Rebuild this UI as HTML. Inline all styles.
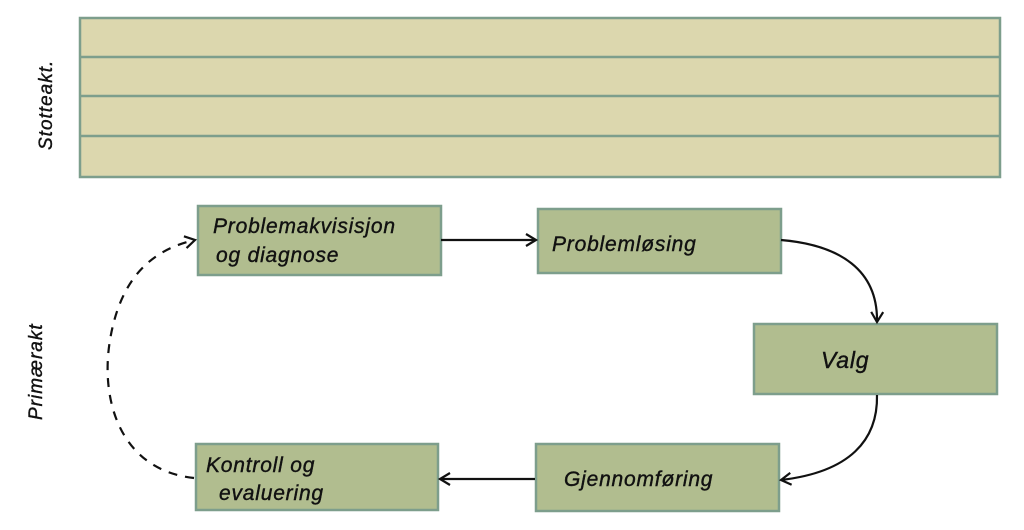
<!DOCTYPE html>
<html><head><meta charset="utf-8"><style>
html,body{margin:0;padding:0;background:#fff;}
svg{display:block;}
text{font-family:"Liberation Sans",sans-serif;font-style:italic;fill:#111;stroke:#111;stroke-width:0.4;}
</style></head><body>
<svg width="1024" height="530" viewBox="0 0 1024 530" xmlns="http://www.w3.org/2000/svg">
<defs>
<marker id="a" markerWidth="14" markerHeight="14" refX="11" refY="7" orient="auto" markerUnits="userSpaceOnUse">
<path d="M1,1 L11,7 L1,13" fill="none" stroke="#111" stroke-width="2.2"/>
</marker>
</defs>
<rect x="80" y="18" width="920" height="159" fill="#dcd7ae" stroke="#7d9e8c" stroke-width="2.5"/>
<line x1="80" y1="57" x2="1000" y2="57" stroke="#7d9e8c" stroke-width="2.5"/>
<line x1="80" y1="96" x2="1000" y2="96" stroke="#7d9e8c" stroke-width="2.5"/>
<line x1="80" y1="136" x2="1000" y2="136" stroke="#7d9e8c" stroke-width="2.5"/>
<text transform="translate(52,150) rotate(-90)" font-size="19" letter-spacing="1">Stotteakt.</text>
<text transform="translate(42,420) rotate(-90)" font-size="19" letter-spacing="1">Primærakt</text>
<g fill="#b1bd8f" stroke="#7d9e8c" stroke-width="2.5">
<rect x="198" y="206" width="243" height="69"/>
<rect x="538" y="209" width="243" height="64"/>
<rect x="754" y="324" width="243" height="70"/>
<rect x="536" y="444" width="243" height="67"/>
<rect x="196" y="444" width="242" height="66"/>
</g>
<g font-size="21" letter-spacing="0.8">
<text x="213" y="233">Problemakvisisjon</text>
<text x="216" y="262">og diagnose</text>
<text x="552" y="251">Problemløsing</text>
<text x="821" y="368" font-size="23">Valg</text>
<text x="564" y="486">Gjennomføring</text>
<text x="206" y="472">Kontroll og</text>
<text x="219" y="500">evaluering</text>
</g>
<g fill="none" stroke="#111" stroke-width="2.2">
<line x1="441" y1="240" x2="536" y2="240" marker-end="url(#a)"/>
<path d="M781,240 C840,245 878,270 877,322" marker-end="url(#a)"/>
<path d="M877,395 C878,440 850,472 781,480" marker-end="url(#a)"/>
<line x1="535" y1="479" x2="440" y2="479" marker-end="url(#a)"/>
<path d="M194,478 C120,470 100,400 110,340 C120,280 150,250 195,240" stroke-dasharray="9,8" marker-end="url(#a)"/>
</g>
</svg>
</body></html>
